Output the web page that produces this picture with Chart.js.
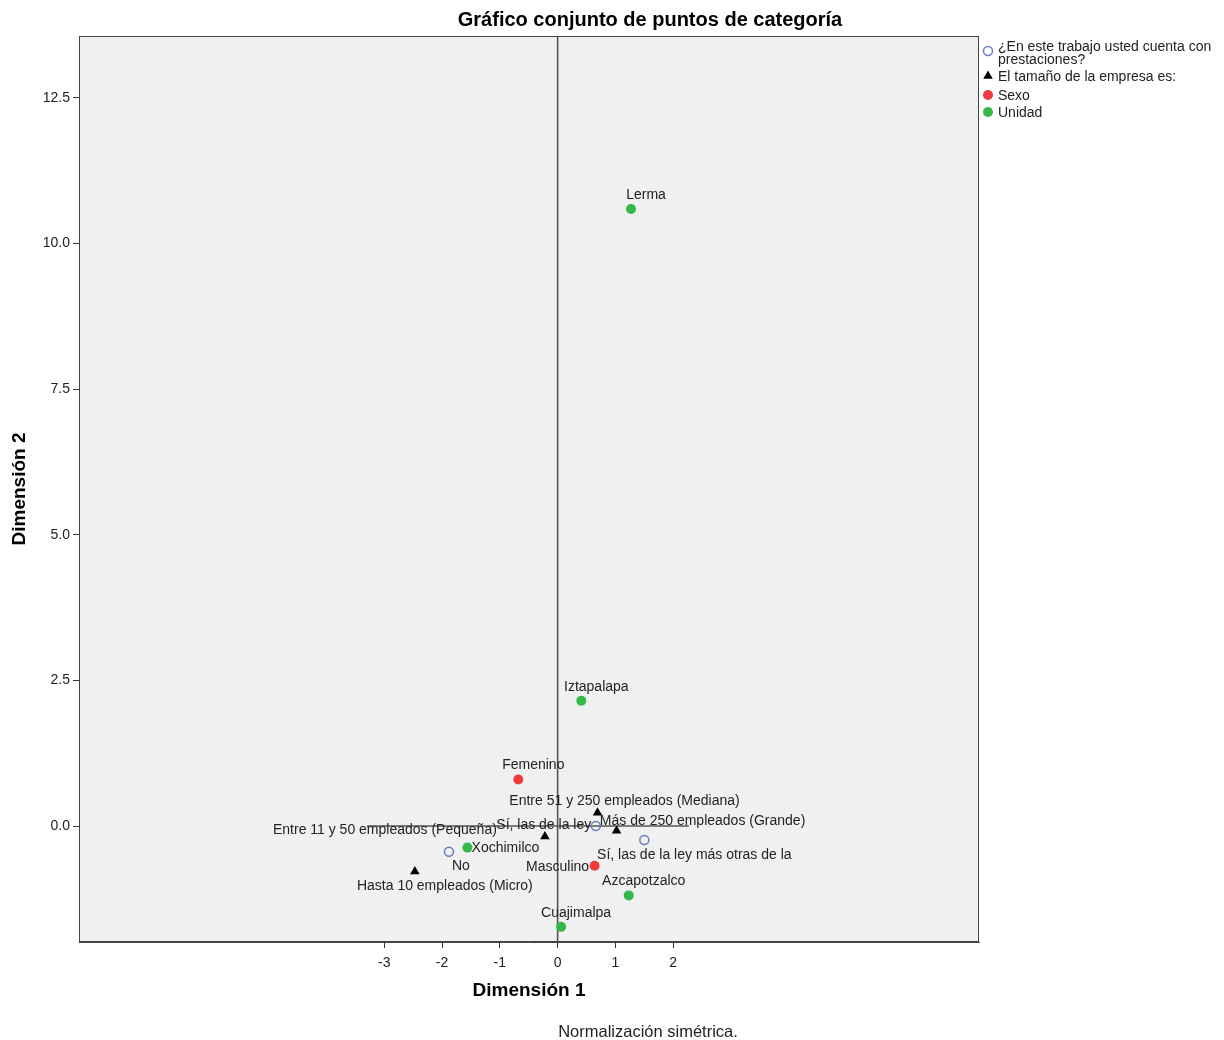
<!DOCTYPE html>
<html>
<head>
<meta charset="utf-8">
<script src="https://cdn.jsdelivr.net/npm/chart.js@4.4.0/dist/chart.umd.min.js"></script>
<style>
  html, body { margin: 0; padding: 0; background: #fff; }
</style>
</head>
<body>
<canvas id="c" width="1224" height="1040"></canvas>
<script>
// ================= DATA =================
const prestacionesLabels = ["Sí, las de la ley", "Sí, las de la ley más otras de la", "No"];
const prestacionesX = [0.66, 1.50, -1.88];
const prestacionesY = [0.00, -0.24, -0.44];

const tamanoLabels = ["Entre 51 y 250 empleados (Mediana)", "Más de 250 empleados (Grande)",
  "Entre 11 y 50 empleados (Pequeña)", "Hasta 10 empleados (Micro)"];
const tamanoX = [0.69, 1.02, -0.22, -2.47];
const tamanoY = [0.23, -0.08, -0.18, -0.78];

const sexoLabels = ["Femenino", "Masculino"];
const sexoX = [-0.68, 0.64];
const sexoY = [0.80, -0.68];

const unidadLabels = ["Lerma", "Iztapalapa", "Xochimilco", "Azcapotzalco", "Cuajimalpa"];
const unidadX = [1.27, 0.41, -1.56, 1.23, 0.06];
const unidadY = [10.59, 2.15, -0.37, -1.19, -1.73];

const xTicks = [-3, -2, -1, 0, 1, 2];
const yTicks = [0, 2.5, 5, 7.5, 10, 12.5];
const xRange = [-8.28, 7.29];
const yRange = [-1.99, 13.56];
const hLineRange = [-3.30, 2.27];   // reference line at Dimensión 2 = 0

const seriesNames = ["¿En este trabajo usted cuenta con\nprestaciones?", "El tamaño de la empresa es:", "Sexo", "Unidad"];

// label offsets (px) from each point, style only
const labelOffsets = [
  [[-52, -1], [50, 15], [12, 14]],
  [[27, -12], [86, -10], [-160, -6], [30, 15]],
  [[15, -14], [-37, 1]],
  [[15, -14], [15, -14], [38, 1], [15, -14], [15, -14]]
];

const FONT = "'Liberation Sans', Arial, sans-serif";

function pts(xs, ys) {
  return xs.map((x, i) => ({ x: x, y: ys[i] }));
}

// ================= PLUGINS =================
const framePlugin = {
  id: "frame",
  beforeDatasetsDraw(chart) {
    const { ctx, chartArea: a, scales } = chart;
    ctx.save();
    ctx.fillStyle = "#f0f0f0";
    ctx.fillRect(a.left, a.top, a.right - a.left, a.bottom - a.top);
    // reference lines
    ctx.strokeStyle = "#555";
    ctx.lineWidth = 1.6;
    const x0 = scales.x.getPixelForValue(0);
    ctx.beginPath();
    ctx.moveTo(x0, a.top);
    ctx.lineTo(x0, a.bottom);
    const y0 = scales.y.getPixelForValue(0);
    ctx.moveTo(scales.x.getPixelForValue(hLineRange[0]), y0);
    ctx.lineTo(scales.x.getPixelForValue(hLineRange[1]), y0);
    ctx.stroke();
    ctx.restore();
  },
  afterDatasetsDraw(chart) {
    const { ctx, chartArea: a } = chart;
    ctx.save();
    // point labels
    ctx.font = "14px " + FONT;
    ctx.fillStyle = "#222";
    ctx.textAlign = "center";
    ctx.textBaseline = "middle";
    chart.data.datasets.forEach((ds, di) => {
      const meta = chart.getDatasetMeta(di);
      meta.data.forEach((el, i) => {
        const off = labelOffsets[di][i];
        ctx.fillText(ds.pointLabels[i], el.x + off[0], el.y + off[1]);
      });
    });
    // plot border
    ctx.strokeStyle = "#444";
    ctx.lineWidth = 1;
    ctx.strokeRect(a.left + 0.5, a.top + 0.5, a.right - a.left - 1, a.bottom - a.top - 1);

    // titles
    ctx.fillStyle = "#000";
    ctx.font = "bold 20px " + FONT;
    ctx.fillText("Gráfico conjunto de puntos de categoría", 650, 20);
    ctx.font = "bold 19px " + FONT;
    ctx.fillText("Dimensión 1", (a.left + a.right) / 2, 991);
    ctx.save();
    ctx.translate(20, (a.top + a.bottom) / 2);
    ctx.rotate(-Math.PI / 2);
    ctx.fillText("Dimensión 2", 0, 0);
    ctx.restore();
    ctx.font = "16.5px " + FONT;
    ctx.fillStyle = "#222";
    ctx.fillText("Normalización simétrica.", 648, 1032);

    // legend
    ctx.textAlign = "left";
    ctx.font = "14px " + FONT;
    const rows = [51, 76, 95, 112];
    chart.data.datasets.forEach((ds, di) => {
      const y = rows[di];
      ctx.fillStyle = ds.backgroundColor;
      ctx.strokeStyle = ds.borderColor;
      ctx.lineWidth = ds.borderWidth;
      Chart.helpers.drawPoint(ctx, {
        pointStyle: ds.pointStyle, radius: ds.pointRadius, borderWidth: ds.borderWidth
      }, 988, y);
      ctx.fillStyle = "#222";
      const lines = seriesNames[di].split("\n");
      const startY = lines.length > 1 ? y - 4 : y + 1;
      lines.forEach((t, k) => ctx.fillText(t, 998, startY + k * 13.5));
    });
    ctx.restore();
  }
};

// ================= CHART =================
const ctx = document.getElementById("c").getContext("2d");

new Chart(ctx, {
  type: "scatter",
  data: {
    datasets: [
      {
        label: seriesNames[0],
        data: pts(prestacionesX, prestacionesY),
        pointLabels: prestacionesLabels,
        pointStyle: "circle",
        pointRadius: 4.5,
        borderWidth: 1.5,
        borderColor: "#6b7dc2",
        backgroundColor: "rgba(0,0,0,0)"
      },
      {
        label: seriesNames[1],
        data: pts(tamanoX, tamanoY),
        pointLabels: tamanoLabels,
        pointStyle: "triangle",
        pointRadius: 5.5,
        borderWidth: 0,
        borderColor: "#000",
        backgroundColor: "#000"
      },
      {
        label: seriesNames[2],
        data: pts(sexoX, sexoY),
        pointLabels: sexoLabels,
        pointStyle: "circle",
        pointRadius: 5,
        borderWidth: 0,
        borderColor: "#ef3b3b",
        backgroundColor: "#ef3b3b"
      },
      {
        label: seriesNames[3],
        data: pts(unidadX, unidadY),
        pointLabels: unidadLabels,
        pointStyle: "circle",
        pointRadius: 5,
        borderWidth: 0,
        borderColor: "#34b84a",
        backgroundColor: "#34b84a"
      }
    ]
  },
  options: {
    responsive: false,
    animation: false,
    layout: { padding: { left: 0, right: 245, top: 36, bottom: 0 } },
    plugins: {
      legend: { display: false },
      title: { display: false },
      tooltip: { enabled: false }
    },
    scales: {
      x: {
        type: "linear",
        min: xRange[0],
        max: xRange[1],
        afterBuildTicks: (s) => { s.ticks = xTicks.map(v => ({ value: v })); },
        afterFit: (s) => { s.height = 98; },
        grid: { drawOnChartArea: false, drawTicks: true, tickLength: 6, tickColor: "#333", tickWidth: 1 },
        border: { display: true, color: "#444" },
        ticks: { color: "#222", font: { family: FONT, size: 14 }, padding: 7, maxRotation: 0 }
      },
      y: {
        type: "linear",
        min: yRange[0],
        max: yRange[1],
        afterBuildTicks: (s) => { s.ticks = yTicks.map(v => ({ value: v })); },
        afterFit: (s) => { s.width = 79; },
        grid: { drawOnChartArea: false, drawTicks: true, tickLength: 6, tickColor: "#333", tickWidth: 1 },
        border: { display: true, color: "#444" },
        ticks: {
          color: "#222", font: { family: FONT, size: 14 }, padding: 3,
          callback: (v) => Number(v).toFixed(1)
        }
      }
    }
  },
  plugins: [framePlugin]
});
</script>
</body>
</html>
